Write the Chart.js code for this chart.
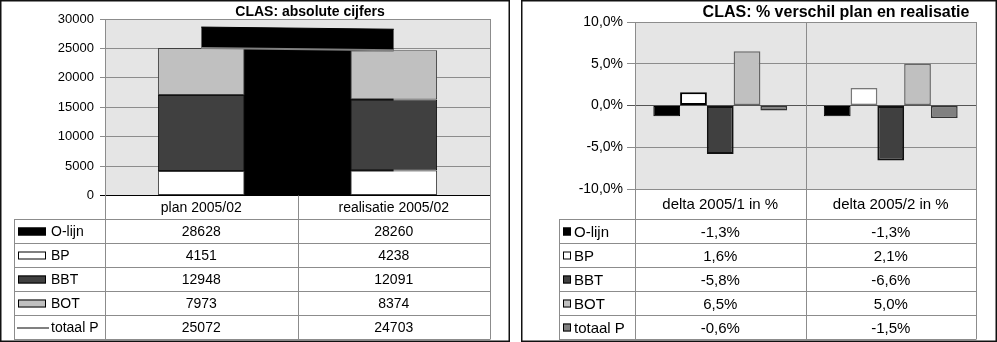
<!DOCTYPE html>
<html>
<head>
<meta charset="utf-8">
<script src="https://cdn.jsdelivr.net/npm/chart.js@4.4.1/dist/chart.umd.min.js"></script>
<style>
  body { margin: 0; background: #fff; }
  canvas { position: absolute; top: 0; }
  #absChart { left: 0; }
  #deltaChart { left: 521px; }
</style>
</head>
<body>
<canvas id="absChart" width="510" height="342"></canvas>
<canvas id="deltaChart" width="476" height="342"></canvas>
<script>
const FONT = '"Liberation Sans", Arial, Helvetica, sans-serif';

// absolute figures
const ABS_COLS = ['plan 2005/02', 'realisatie 2005/02'];
const ABS_TICKS = [0, 5000, 10000, 15000, 20000, 25000, 30000];
const O_LIJN = [28628, 28260];
const BP = [4151, 4238];
const BBT = [12948, 12091];
const BOT = [7973, 8374];
const TOTAAL_P = [25072, 24703];

// % difference plan vs realisatie
const DELTA_COLS = ['delta 2005/1 in %', 'delta 2005/2 in %'];
const DELTA_TICKS = [-10, -5, 0, 5, 10];
const D_O_LIJN = [-1.3, -1.3];
const D_BP = [1.6, 2.1];
const D_BBT = [-5.8, -6.6];
const D_BOT = [6.5, 5.0];
const D_TOTAAL_P = [-0.6, -1.5];

Chart.defaults.font.family = FONT;
Chart.defaults.font.size = 13;
Chart.defaults.color = '#000';

const pct = v => v.toFixed(1).replace('.', ',') + '%';

// sheet look: white page, grey plot, title, data table with legend keys, frame
const sheetPlugin = {
  id: 'sheet',
  beforeDraw(chart, args, o) {
    const { ctx, chartArea: a, width, height } = chart;
    ctx.save();
    ctx.fillStyle = '#fff';
    ctx.fillRect(0, 0, width, height);
    ctx.fillStyle = '#e5e5e5';
    ctx.fillRect(a.left, a.top, a.right - a.left, a.bottom - a.top);
    ctx.restore();
  },
  afterDraw(chart, args, o) {
    const { ctx, chartArea: a, width, height } = chart;
    const xs = chart.scales.x;
    const sets = chart.data.datasets;
    const n = chart.data.labels.length;
    const cw = (a.right - a.left) / n;
    const bottom = o.rowTop + o.rowH * sets.length;

    ctx.save();
    ctx.strokeStyle = '#8c8c8c';
    ctx.lineWidth = 1;
    ctx.beginPath();
    for (let i = 0; i <= sets.length; i++) {
      const y = Math.round(o.rowTop + i * o.rowH) + 0.5;
      ctx.moveTo(o.tableLeft, y);
      ctx.lineTo(a.right + 0.5, y);
    }
    ctx.moveTo(o.tableLeft + 0.5, o.rowTop);
    ctx.lineTo(o.tableLeft + 0.5, bottom);
    for (let i = 0; i <= n; i++) {
      const x = Math.round(a.left + i * cw) + 0.5;
      const inner = i > 0 && i < n;
      ctx.moveTo(x, inner && !o.splitPlot ? a.bottom : a.top);
      ctx.lineTo(x, bottom);
    }
    ctx.stroke();

    ctx.fillStyle = '#000';
    ctx.font = o.fontSize + 'px ' + FONT;
    ctx.textBaseline = 'middle';
    ctx.textAlign = 'center';
    chart.data.labels.forEach((l, i) => {
      ctx.fillText(l, xs.getPixelForValue(i), (a.bottom + o.rowTop) / 2 + 1);
    });

    sets.forEach((ds, j) => {
      const cy = o.rowTop + j * o.rowH + o.rowH / 2 + 1.5;
      ctx.textAlign = 'center';
      ctx.fillStyle = '#000';
      ds.data.forEach((v, i) => ctx.fillText(o.format(v), xs.getPixelForValue(i), cy));
      // legend key
      const kx = o.tableLeft + 4;
      if (ds.type === 'line' && !ds.fill) {
        ctx.strokeStyle = ds.borderColor;
        ctx.lineWidth = 2;
        ctx.beginPath();
        ctx.moveTo(kx - 1, cy - 0.5);
        ctx.lineTo(kx + o.keyW + 3, cy - 0.5);
        ctx.stroke();
      } else {
        ctx.fillStyle = ds.backgroundColor;
        ctx.fillRect(kx, cy - 5, o.keyW, 8);
        ctx.strokeStyle = '#000';
        ctx.lineWidth = 1;
        ctx.strokeRect(kx + 0.5, cy - 4.5, o.keyW - 1, 7);
      }
      ctx.fillStyle = '#000';
      ctx.textAlign = 'left';
      ctx.fillText(ds.label, o.labelX, cy);
    });

    ctx.textAlign = 'center';
    ctx.font = 'bold ' + o.titleSize + 'px ' + FONT;
    ctx.fillText(o.title, o.titleX, o.titleY);

    ctx.strokeStyle = '#111';
    ctx.lineWidth = 1.5;
    ctx.strokeRect(0.75, 0.75, width - 1.5, height - 1.5);
    ctx.restore();
  }
};

function yAxis(ticks, width, tickLength, pad, size, fmt, zeroColor) {
  return {
    min: ticks[0],
    max: ticks[ticks.length - 1],
    afterFit: s => { s.width = width; },
    ticks: { stepSize: ticks[1] - ticks[0], padding: pad, callback: fmt, font: { size: size } },
    grid: {
      color: c => (c.tick && c.tick.value === 0 ? zeroColor : '#8c8c8c'),
      tickLength: tickLength
    },
    border: { display: true, color: '#8c8c8c' }
  };
}

new Chart(document.getElementById('absChart'), {
  type: 'bar',
  data: {
    labels: ABS_COLS,
    datasets: [
      { type: 'line', label: 'O-lijn', data: O_LIJN, fill: 'origin', backgroundColor: '#000', borderColor: '#000', borderWidth: 1, pointRadius: 0, stack: 'o', order: 2 },
      { label: 'BP', data: BP, backgroundColor: '#fff', borderColor: '#404040', borderWidth: 1, borderSkipped: false, stack: 'p', order: 1 },
      { label: 'BBT', data: BBT, backgroundColor: '#404040', borderColor: '#111', borderWidth: 1, borderSkipped: false, stack: 'p', order: 1 },
      { label: 'BOT', data: BOT, backgroundColor: '#c0c0c0', borderColor: '#404040', borderWidth: 1, borderSkipped: false, stack: 'p', order: 1 },
      { type: 'line', label: 'totaal P', data: TOTAAL_P, fill: false, borderColor: '#808080', borderWidth: 2, pointRadius: 0, stack: 't', order: 0 }
    ]
  },
  options: {
    responsive: false,
    animation: false,
    events: [],
    layout: { padding: { top: 19, right: 20, bottom: 146.5, left: 0 } },
    datasets: { bar: { categoryPercentage: 0.45, barPercentage: 1 } },
    plugins: {
      legend: { display: false },
      tooltip: { enabled: false },
      sheet: {
        title: 'CLAS: absolute cijfers', titleX: 310, titleY: 12, titleSize: 14,
        fontSize: 14, tableLeft: 14, keyW: 28, labelX: 51, rowTop: 219, rowH: 24,
        splitPlot: false, format: v => String(v)
      }
    },
    scales: {
      x: { display: false, stacked: true },
      y: Object.assign(yAxis(ABS_TICKS, 105, 5, 6, 13, v => String(v), '#000'), { stacked: true })
    }
  },
  plugins: [sheetPlugin]
});

new Chart(document.getElementById('deltaChart'), {
  type: 'bar',
  data: {
    labels: DELTA_COLS,
    datasets: [
      { label: 'O-lijn', data: D_O_LIJN, backgroundColor: '#000', borderColor: '#000', borderWidth: 1 },
      { label: 'BP', data: D_BP, backgroundColor: '#fff', borderColor: ['#000', '#777'], borderWidth: [2, 1.5] },
      { label: 'BBT', data: D_BBT, backgroundColor: '#404040', borderColor: '#111', borderWidth: 2 },
      { label: 'BOT', data: D_BOT, backgroundColor: '#c0c0c0', borderColor: '#666', borderWidth: 1.5 },
      { label: 'totaal P', data: D_TOTAAL_P, backgroundColor: '#808080', borderColor: '#333', borderWidth: 1.5 }
    ]
  },
  options: {
    responsive: false,
    animation: false,
    events: [],
    layout: { padding: { top: 22, right: 21, bottom: 153, left: 0 } },
    datasets: { bar: { categoryPercentage: 0.785, barPercentage: 1, borderSkipped: false } },
    plugins: {
      legend: { display: false },
      tooltip: { enabled: false },
      sheet: {
        title: 'CLAS: % verschil plan en realisatie', titleX: 315, titleY: 13, titleSize: 16,
        fontSize: 15, tableLeft: 38, keyW: 8, labelX: 53, rowTop: 219, rowH: 24,
        splitPlot: true, format: pct
      }
    },
    scales: {
      x: { display: false },
      y: yAxis(DELTA_TICKS, 114, 8, 4, 14, pct, '#555')
    }
  },
  plugins: [sheetPlugin]
});
</script>
</body>
</html>
